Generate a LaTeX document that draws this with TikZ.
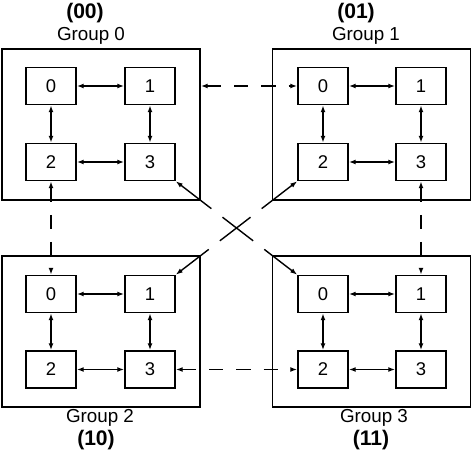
\documentclass[tikz,border=0pt]{standalone}
\usepackage{fontspec}
\setmainfont{Liberation Sans}
\usetikzlibrary{arrows.meta}

\begin{document}
\begin{tikzpicture}[x=0.02cm, y=-0.02cm, line width=0.8pt,
  grp/.style={draw, minimum width=3.96cm, minimum height=3.02cm},
  cell/.style={draw, minimum width=1cm, minimum height=0.74cm, font=\fontsize{10.5}{12}\selectfont},
  glabel/.style={font=\fontsize{10.7}{12}\selectfont},
  gcode/.style={font=\fontsize{12}{14}\selectfont\bfseries},
  both/.style={{Latex[length=4pt,width=2.8pt]}-{Latex[length=4pt,width=2.8pt]}},
  link/.style={both, dash pattern=on 8pt off 7.5pt},
  xlink/.style={both, dash pattern=on 22pt off 8pt}]
\useasboundingbox (0,0) rectangle (473,450);
% group 0
\node[gcode](c0) at(85,13){(00)};
\node[glabel](l0) at(91,36){Group 0};
\node[grp](g0) at(101,124.5){};
\node[cell](a0) at(51,86){0};
\node[cell](a1) at(150,86){1};
\node[cell](a2) at(51,162){2};
\node[cell](a3) at(150,162){3};
\draw[both](a0)--(a1);
\draw[both](a2)--(a3);
\draw[both](a0)--(a2);
\draw[both](a1)--(a3);
% group 1
\node[gcode](c1) at(356,13){(01)};
\node[glabel](l1) at(366,36){Group 1};
\node[grp](g1) at(371.5,124.5){};
\node[cell](b0) at(323,86){0};
\node[cell](b1) at(421,86){1};
\node[cell](b2) at(323,162){2};
\node[cell](b3) at(421,162){3};
\draw[both](b0)--(b1);
\draw[both](b2)--(b3);
\draw[both](b0)--(b2);
\draw[both](b1)--(b3);
% group 2
\node[grp](g2) at(101,331.5){};
\node[cell](d0) at(51,294){0};
\node[cell](d1) at(150,294){1};
\node[cell](d2) at(51,369.5){2};
\node[cell](d3) at(150,369.5){3};
\draw[both](d0)--(d1);
\draw[both](d2)--(d3);
\draw[both](d0)--(d2);
\draw[both](d1)--(d3);
\node[glabel](l2) at(100,418){Group 2};
\node[gcode](c2) at(96,440){(10)};
% group 3
\node[grp](g3) at(371.5,331.5){};
\node[cell](e0) at(323,294){0};
\node[cell](e1) at(421,294){1};
\node[cell](e2) at(323,369.5){2};
\node[cell](e3) at(421,369.5){3};
\draw[both](e0)--(e1);
\draw[both](e2)--(e3);
\draw[both](e0)--(e2);
\draw[both](e1)--(e3);
\node[glabel](l3) at(374,418){Group 3};
\node[gcode](c3) at(371,440){(11)};
% links between groups
\draw[link](g0.east |- a1)--(b0.west);
\draw[link](a2.south)--(d0.north);
\draw[link](b3.south)--(e1.north);
\draw[link](d3.east)--(e2.west);
\draw[xlink](a3.south east)--(e0.north west);
\draw[xlink](b2.south west)--(d1.north east);
\end{tikzpicture}
\end{document}
